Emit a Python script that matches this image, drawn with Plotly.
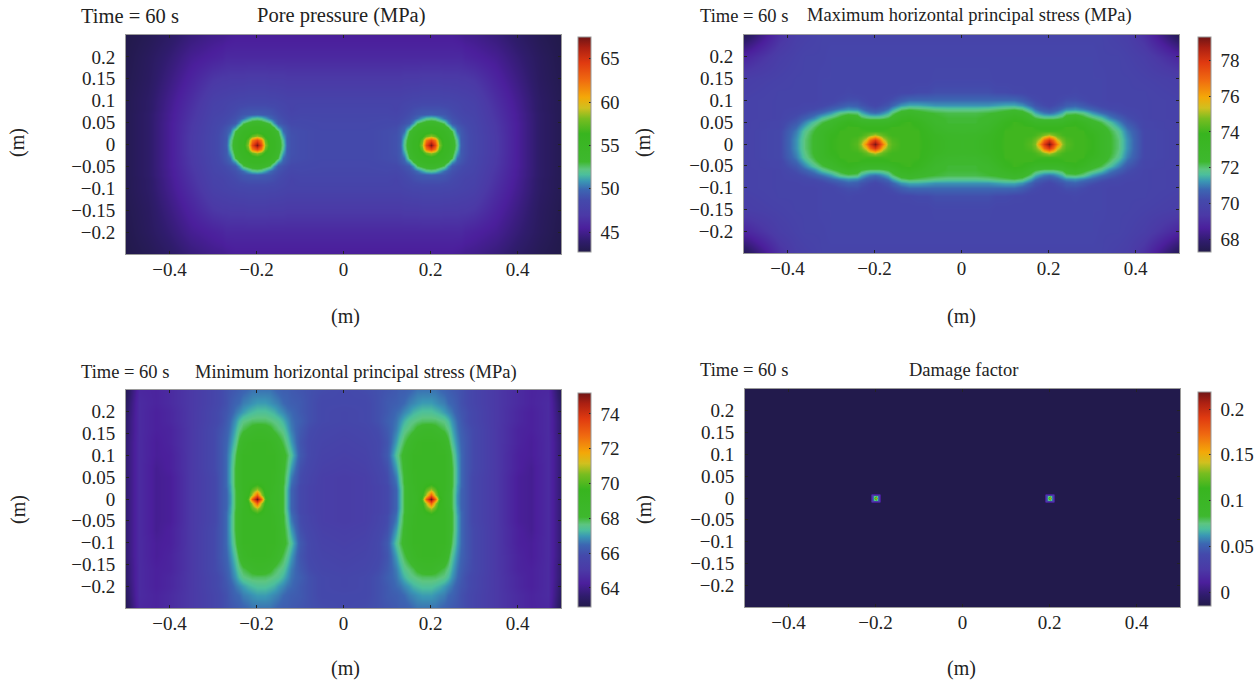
import plotly.graph_objects as go
import numpy as np

W, H = 1258, 681

colorscale = [[0, "#221a4b"], [0.05, "#2f1c6c"], [0.11, "#4b1f9c"], [0.17, "#4b39a6"], [0.24, "#4449ab"],
              [0.29, "#3c66b2"], [0.33, "#3a98b4"], [0.36, "#4cbf9c"], [0.385, "#5dc581"], [0.42, "#3eb82e"],
              [0.55, "#38b51f"], [0.62, "#78bd20"], [0.67, "#d0c01f"], [0.72, "#f4a808"], [0.8, "#f06a10"],
              [0.88, "#e03a10"], [0.95, "#ac2012"], [1, "#701515"]]

x_ticks = [-0.4, -0.2, 0, 0.2, 0.4]
x_labels = ["\u22120.4", "\u22120.2", "0", "0.2", "0.4"]
y_ticks = [-0.2, -0.15, -0.1, -0.05, 0, 0.05, 0.1, 0.15, 0.2]
y_labels = ["\u22120.2", "\u22120.15", "\u22120.1", "\u22120.05", "0", "0.05", "0.1", "0.15", "0.2"]

# ---- Pore pressure (MPa): quarter of the symmetric field, x >= 0, y >= 0
pore_x = [0, .05, .1, .12, .13, .14, .15, .16, .17, .18, .19, .2, .21, .22, .23, .24, .25, .26, .27, .28, .3, .35, .4, .45, .5]
pore_y = [0, .01, .02, .03, .04, .05, .06, .07, .08, .1, .15, .2, .25]
pore_z = [
    [48.6,48.6,48.8,49,49.5,52,54,55,55.5,58.5,64,67.3,64,58.5,55.5,55,54,52,49.5,49,48.4,47,45.3,43.8,43],
    [48.6,48.6,48.8,49,49.4,51.7,53.9,55,55.3,57.5,62,64,62,57.5,55.3,55,53.9,51.7,49.4,49,48.4,47,45.3,43.8,43],
    [48.6,48.6,48.8,49,49.4,51,53.5,54.7,55.2,56,57.5,58.5,57.5,56,55.2,54.7,53.5,51,49.4,49,48.4,47,45.3,43.8,43],
    [48.6,48.6,48.8,48.9,49.3,50,52.8,54.1,54.9,55.2,55.3,55.5,55.3,55.2,54.9,54.1,52.8,50,49.3,48.9,48.3,46.9,45.3,43.8,43],
    [48.5,48.5,48.7,48.8,49.1,49.6,50.8,52.8,54,54.7,55,55,55,54.7,54,52.8,50.8,49.6,49.1,48.8,48.3,46.9,45.3,43.8,43],
    [48.5,48.5,48.6,48.6,48.8,49,49.4,50.7,52.6,53.4,53.9,54,53.9,53.4,52.6,50.7,49.4,49,48.8,48.6,48.2,46.8,45.3,43.8,43],
    [48.4,48.4,48.5,48.4,48.6,48.8,49,49.4,50,51,51.7,52,51.7,51,50,49.4,49,48.8,48.6,48.4,48.1,46.7,45.2,43.8,43],
    [48.3,48.3,48.3,48.2,48.4,48.6,48.8,49,49.2,49.3,49.4,49.5,49.4,49.3,49.2,49,48.8,48.6,48.4,48.2,48,46.6,45.2,43.8,43],
    [48.2,48.2,48.2,48,48.2,48.4,48.6,48.8,48.9,49,49,49,49,49,48.9,48.8,48.6,48.4,48.2,48,47.9,46.5,45.1,43.7,43],
    [48,48,48,48,48,48.1,48.2,48.3,48.3,48.4,48.4,48.4,48.4,48.4,48.3,48.3,48.2,48.1,48,47.9,47.7,46.3,45,43.7,43],
    [47,47,47,47,47,47.1,47.1,47.1,47.1,47.2,47.2,47.2,47.2,47.2,47.1,47.1,47.1,47.1,47,47,46.8,45.7,44.6,43.5,42.9],
    [46,46,46,46,46,46,46,46,46,46,46,46,46,46,46,46,46,46,46,45.8,45.6,45.1,44.2,43.4,42.8],
    [45.3,45.3,45.3,45.3,45.3,45.3,45.3,45.3,45.3,45.3,45.3,45.3,45.3,45.3,45.3,45.3,45.3,45.2,45.1,45,44.9,44.4,43.7,43.1,42.7],
]
pore_ticks = [45, 50, 55, 60, 65]
pore_labels = ["45", "50", "55", "60", "65"]

# ---- Maximum horizontal principal stress (MPa)
smax_x = [0, .03, .06, .08, .1, .12, .14, .16, .17, .18, .19, .2, .21, .22, .23, .24, .26, .28, .3, .32, .34, .36, .38, .42, .5]
smax_y = [0, .01, .02, .03, .04, .05, .06, .07, .08, .09, .1, .12, .15, .2, .25]
smax_z = [
    [72.9,73,73.4,73.8,74,74,74,74.3,74.8,76.5,78,79.2,78,76.5,75,74.3,74,74,73.9,73,72.4,72,71.2,70.1,69.8],
    [72.9,73,73.4,73.8,74,74,74,74.2,74.6,75.5,77,78,77,75.5,74.7,74.2,74,74,73.9,73,72.4,72,71.2,70.1,69.8],
    [72.8,72.9,73.3,73.7,74,74,74,74,74.1,74.4,74.8,75.2,74.8,74.4,74.1,74,74,74,73.8,73,72.4,71.9,71.1,70.1,69.8],
    [72.5,72.6,73,73.6,74,74,74,74,74,74,74,74,74,74,74,74,74,74,73.5,72.9,72.3,71.8,71,70.1,69.8],
    [72.4,72.4,72.8,73.4,73.9,74,74,74,73.9,73.8,73.8,73.8,73.8,73.8,73.9,74,74,73.8,73.1,72.6,72.1,71.5,70.8,70,69.8],
    [72.3,72.3,72.5,73,73.7,74,73.9,73.4,73.1,73,73,73,73,73,73.1,73.4,73.8,73.3,72.6,72.2,71.7,71.1,70.5,70,69.8],
    [72.3,72.3,72.4,72.7,73.2,73.6,73.4,72.6,72.3,72.1,72,72,72,72.1,72.3,72.7,73,72.5,72.1,71.7,71.1,70.7,70.3,69.9,69.8],
    [72.2,72.2,72.3,72.4,72.6,72.9,72.7,72,71.5,71.2,71,70.9,71,71.2,71.5,72,72.1,71.9,71.3,70.9,70.6,70.3,70.1,69.9,69.8],
    [71.8,71.8,71.9,72,72.1,72.2,72,71.3,70.9,70.6,70.5,70.4,70.5,70.6,70.9,71.1,71.2,71,70.7,70.4,70.2,70.1,70,69.9,69.8],
    [71.2,71.2,71.2,71.3,71.4,71.4,71.2,70.7,70.4,70.3,70.2,70.1,70.2,70.3,70.4,70.6,70.7,70.5,70.3,70.1,70,70,69.9,69.9,69.8],
    [70.8,70.8,70.8,70.8,70.8,70.8,70.6,70.3,70.2,70.1,70,70,70,70.1,70.2,70.3,70.3,70.2,70,70,69.9,69.9,69.9,69.9,69.8],
    [70.3,70.3,70.3,70.2,70.2,70.1,70.1,70,70,70,70,70,70,70,70,70,70.1,70,70,70,69.9,69.9,69.9,69.9,69.7],
    [70.1,70.1,70.1,70,70,70,70,70,70,70,70,70,70,70,70,70,70,70,70,70,69.9,69.9,69.9,69.8,69.6],
    [70,70,70,70,70,70,70,70,70,70,70,70,70,70,70,70,70,70,70,69.9,69.9,69.9,69.8,69.6,68.8],
    [69.9,69.9,69.9,69.9,69.9,69.9,69.9,69.9,69.9,69.9,69.9,69.9,69.9,69.9,69.9,69.9,69.9,69.9,69.9,69.9,69.8,69.7,69.6,69.1,67.5],
]
smax_ticks = [68, 70, 72, 74, 76, 78]
smax_labels = ["68", "70", "72", "74", "76", "78"]

# ---- Minimum horizontal principal stress (MPa)
smin_x = [0, .05, .08, .1, .12, .13, .14, .15, .16, .17, .18, .19, .2, .21, .22, .23, .24, .25, .26, .27, .28, .3, .35, .4, .43, .47, .5]
smin_y = [0, .01, .02, .03, .04, .05, .07, .1, .13, .16, .18, .2, .22, .25]
smin_z = [
    [65.2,65.3,65.5,65.8,66.4,67.2,68,68.5,68.7,68.9,70,73,75.2,73,70,68.9,68.4,67.9,66.9,66.4,66.2,65.7,65,64.2,64.1,64.6,63.6],
    [65.2,65.3,65.5,65.8,66.4,67.2,68,68.5,68.7,68.9,69.5,71,73,71,69.5,68.9,68.4,67.9,66.9,66.4,66.2,65.7,65,64.2,64.1,64.6,63.6],
    [65.2,65.3,65.5,65.8,66.4,67.2,68,68.5,68.8,69,69.3,70.2,71,70.2,69.3,69,68.5,67.9,67,66.4,66.2,65.7,65,64.2,64.1,64.6,63.6],
    [65.2,65.3,65.5,65.8,66.5,67.3,68,68.5,68.8,69,69.2,69.6,70,69.6,69.2,69,68.5,68,67,66.5,66.2,65.7,65,64.2,64.1,64.6,63.6],
    [65.2,65.3,65.6,65.9,66.6,67.4,68.1,68.6,68.9,69,69.1,69.2,69.3,69.2,69.1,69,68.6,68,67.1,66.5,66.2,65.7,65,64.2,64.1,64.6,63.6],
    [65.2,65.3,65.6,65.9,66.7,67.5,68.1,68.6,68.9,69,69,69,69,69,69,69,68.6,68,67.1,66.5,66.2,65.7,65,64.2,64.1,64.6,63.6],
    [65.3,65.4,65.7,66,67,67.7,68.2,68.7,69,69,69,69,69,69,69,69,68.6,68,67.1,66.5,66.2,65.8,65,64.3,64.1,64.6,63.6],
    [65.4,65.5,65.8,66.2,67.4,67.9,68.3,68.7,69,69,69,69,69,69,69,69,68.6,67.8,67,66.5,66.2,65.8,65,64.3,64.2,64.6,63.6],
    [65.5,65.6,65.8,66.1,67,67.5,67.9,68.3,68.7,68.9,69,69,69,69,68.9,68.7,68.1,67.4,66.8,66.4,66.2,65.8,65,64.4,64.2,64.6,63.6],
    [65.6,65.7,65.9,66.2,66.7,67.1,67.5,67.7,67.9,68.2,68.4,68.5,68.5,68.3,68.1,67.9,67.6,67.1,66.6,66.3,66.1,65.8,65,64.4,64.3,64.6,63.5],
    [65.7,65.8,66,66.3,66.6,66.9,67.2,67.5,67.6,67.7,67.8,67.8,67.8,67.8,67.7,67.6,67.3,66.9,66.5,66.2,66,65.7,65,64.5,64.3,64.6,63.5],
    [65.7,65.8,66,66.2,66.5,66.6,66.8,67,67.2,67.3,67.4,67.4,67.4,67.3,67.2,67,66.8,66.6,66.3,66.1,66,65.7,65,64.5,64.3,64.6,63.4],
    [65.8,65.8,66,66.2,66.3,66.4,66.5,66.7,66.8,66.9,67,67,67,66.9,66.8,66.7,66.5,66.4,66.2,66,65.9,65.6,65,64.6,64.4,64.6,63.3],
    [65.8,65.9,66,66.1,66.2,66.3,66.3,66.4,66.5,66.6,66.6,66.6,66.6,66.6,66.5,66.4,66.3,66.2,66.1,66,65.9,65.6,65,64.6,64.4,64.5,63.1],
]
smin_ticks = [64, 66, 68, 70, 72, 74]
smin_labels = ["64", "66", "68", "70", "72", "74"]

# ---- Damage factor
dmg_x = [0, .188, .192, .196, .2, .204, .208, .212, .5]
dmg_y = [0, .004, .008, .012, .25]
dmg_z = [
    [-.015,-.015,.03,.08,.17,.08,.03,-.015,-.015],
    [-.015,-.015,.03,.07,.08,.07,.03,-.015,-.015],
    [-.015,-.015,.03,.03,.03,.03,.03,-.015,-.015],
    [-.015,-.015,-.015,-.015,-.015,-.015,-.015,-.015,-.015],
    [-.015,-.015,-.015,-.015,-.015,-.015,-.015,-.015,-.015],
]
dmg_ticks = [0, 0.05, 0.1, 0.15, 0.2]
dmg_labels = ["0", "0.05", "0.1", "0.15", "0.2"]

def full(xq, yq, zq):
    xq, yq, zq = np.array(xq), np.array(yq), np.array(zq)
    x = np.concatenate([-xq[:0:-1], xq])
    y = np.concatenate([-yq[:0:-1], yq])
    zh = np.concatenate([zq[:, :0:-1], zq], axis=1)
    z = np.concatenate([zh[:0:-1], zh], axis=0)
    return x, y, z

panels = [
    dict(x=pore_x, y=pore_y, z=pore_z, zr=(42.7, 67.5), ticks=pore_ticks, labels=pore_labels, fs=20.5,
         box=(126, 561, 35, 254), cb=(578, 37, 252), time=(79, 16), title=(341, 16, "Pore pressure (MPa)"), xl=(345, 316), yl=(18, 143)),
    dict(x=smax_x, y=smax_y, z=smax_z, zr=(67.3, 79.3), ticks=smax_ticks, labels=smax_labels, fs=18.5,
         box=(744, 1179, 35, 253), cb=(1198, 37, 252), time=(698, 16), title=(969, 16, "Maximum horizontal principal stress (MPa)"), xl=(961, 316), yl=(644, 143)),
    dict(x=smin_x, y=smin_y, z=smin_z, zr=(62.9, 75.2), ticks=smin_ticks, labels=smin_labels, fs=18.5,
         box=(126, 561, 390, 608), cb=(578, 393, 607), time=(79, 372), title=(356, 372, "Minimum horizontal principal stress (MPa)"), xl=(345, 668), yl=(18, 510)),
    dict(x=dmg_x, y=dmg_y, z=dmg_z, zr=(-0.0153, 0.2186), ticks=dmg_ticks, labels=dmg_labels, fs=18.5,
         box=(745, 1180, 389, 607), cb=(1198, 392, 606), time=(698, 370), title=(964, 370, "Damage factor"), xl=(961, 668), yl=(644, 510)),
]

FONT = "Liberation Serif"
TXT = "#222222"
fig = go.Figure()
annots = []

def note(px, py, text, anchor="center", angle=0, size=15):
    annots.append(dict(x=px / W, y=1 - py / H, xref="paper", yref="paper", text=text, showarrow=False,
                       xanchor=anchor, yanchor="middle", textangle=angle,
                       font=dict(family=FONT, size=size, color=TXT)))

for i, p in enumerate(panels, 1):
    x, y, z = full(p["x"], p["y"], p["z"])
    l, r, t, b = p["box"]
    cx, ct, cb = p["cb"]
    fig.add_trace(go.Heatmap(
        x=x, y=y, z=z, xaxis=f"x{i}", yaxis=f"y{i}", zmin=p["zr"][0], zmax=p["zr"][1],
        colorscale=colorscale, zsmooth="best",
        colorbar=dict(x=cx / W, xref="paper", xanchor="left", y=1 - cb / H, yref="paper", yanchor="bottom",
                      len=(cb - ct) / H, lenmode="fraction", thickness=13, thicknessmode="pixels",
                      xpad=0, ypad=0, outlinewidth=1, outlinecolor="#999999",
                      tickvals=p["ticks"], ticktext=["\u00a0" + s for s in p["labels"]], ticks="inside", ticklen=2,
                      tickcolor="#222222", tickwidth=1, tickfont=dict(family=FONT, size=19, color=TXT))))
    ax = dict(ticks="inside", ticklen=3, tickwidth=1, tickcolor="#222222", showline=True, linecolor="#9a9a9a",
              linewidth=1, mirror="ticks", showgrid=False, zeroline=False,
              tickfont=dict(family=FONT, size=19, color=TXT))
    fig.update_layout({
        f"xaxis{i}": dict(ax, domain=[l / W, r / W], range=[-0.5, 0.5], anchor=f"y{i}", tickvals=x_ticks,
                          ticktext=x_labels, ticklabelstandoff=-2),
        f"yaxis{i}": dict(ax, domain=[1 - b / H, 1 - t / H], range=[-0.25, 0.25], anchor=f"x{i}", tickvals=y_ticks,
                          ticktext=y_labels, ticklabelstandoff=6),
    })
    note(p["time"][0], p["time"][1], "Time = 60 s", anchor="left", size=p["fs"])
    note(p["title"][0], p["title"][1], p["title"][2], size=p["fs"])
    note(p["xl"][0], p["xl"][1], "(m)", size=20)
    note(p["yl"][0], p["yl"][1], "(m)", angle=-90, size=20)

fig.update_layout(width=W, height=H, margin=dict(l=0, r=0, t=0, b=0), paper_bgcolor="white", plot_bgcolor="white",
                  annotations=annots, showlegend=False)
fig.write_html("out.html", config={"displayModeBar": False}, post_script="document.body.style.margin='0';")
